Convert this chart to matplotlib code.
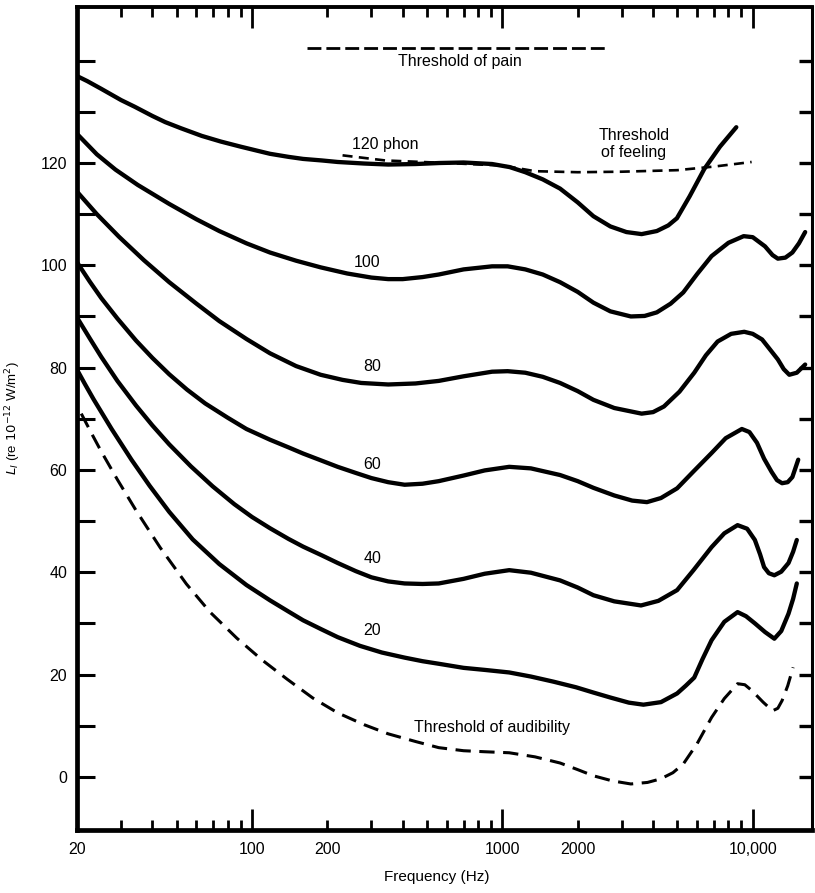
import numpy as np
import matplotlib
matplotlib.use("Agg")
import matplotlib.pyplot as plt

plt.rcParams['font.family'] = ['Liberation Sans', 'DejaVu Sans']
plt.rcParams['mathtext.fontset'] = 'dejavusans'

# ---------------- data (frequency in Hz, level in dB) ----------------
phon120_f = [20, 22, 25, 30, 34, 40, 45, 52, 63, 75, 90, 105, 118, 140, 160, 190, 220, 280, 350,
             450, 560, 700, 910, 1070, 1235, 1450, 1700, 2000, 2310, 2700, 3130, 3600, 4140, 4600,
             4980, 5600, 6400, 7400, 8600]
phon120_db = [137, 136, 134.5, 132.3, 131, 129.2, 128, 126.8, 125.3, 124.2, 123.2, 122.4, 121.8,
              121.2, 120.8, 120.5, 120.2, 119.9, 119.7, 119.8, 120, 120.1, 119.8, 119.2, 118.2,
              116.8, 115, 112.3, 109.6, 107.6, 106.5, 106.1, 106.7, 107.8, 109.2, 113.5, 118.8,
              123.2, 127]

phon100_f = [20, 24, 28.5, 35, 46.7, 60, 74, 95, 118, 150, 188, 240, 300, 350, 400, 480, 557, 700,
             910, 1050, 1235, 1450, 1700, 2000, 2310, 2700, 3260, 3700, 4140, 4700, 5280, 6000,
             6850, 8000, 9200, 10000, 11200, 12000, 12600, 13500, 14400, 15300, 16200]
phon100_db = [125.7, 121.7, 118.7, 115.7, 112.0, 109.0, 106.7, 104.3, 102.5, 100.9, 99.6, 98.4, 97.6,
              97.3, 97.3, 97.7, 98.2, 99.2, 99.8, 99.8, 99.2, 98.2, 96.7, 94.8, 92.7, 91, 90, 90.1,
              90.8, 92.5, 94.7, 98.3, 101.8, 104.4, 105.7, 105.5, 103.7, 102, 101.3, 101.5, 102.5,
              104.3, 106.5]

phon80_f = [20, 24, 29.4, 37, 46.7, 60, 74, 95, 118, 150, 188, 230, 273, 350, 450, 557, 700, 910,
            1050, 1235, 1450, 1700, 2000, 2310, 2800, 3600, 4000, 4420, 5100, 5840, 6500, 7240,
            8200, 9250, 10000, 10900, 11700, 12600, 13300, 14000, 15000, 16200]
phon80_db = [114.4, 110.0, 105.6, 101.0, 96.7, 92.5, 89.1, 85.6, 82.8, 80.3, 78.6, 77.6, 77, 76.7,
             76.9, 77.4, 78.3, 79.2, 79.3, 79, 78.2, 77, 75.4, 73.7, 72.1, 71, 71.3, 72.4, 75.3,
             79, 82.4, 85.1, 86.6, 87, 86.6, 85.5, 83.6, 81.6, 79.7, 78.6, 79, 80.6]

phon60_f = [20, 22.5, 25, 29, 34.4, 40, 46.7, 55, 65, 80, 95, 118, 140, 160, 190, 220, 260, 300,
            350, 407, 480, 557, 700, 850, 1065, 1300, 1700, 2000, 2310, 2800, 3300, 3780, 4300,
            4990, 5800, 6850, 7800, 9050, 9700, 10400, 11100, 11900, 12500, 13100, 13800, 14400,
            15200]
phon60_db = [100.6, 96.8, 93.6, 89.6, 85.3, 81.9, 78.7, 75.7, 73, 70.2, 68.0, 65.9, 64.4, 63.2,
             61.8, 60.6, 59.4, 58.4, 57.6, 57.1, 57.3, 57.8, 58.9, 59.9, 60.6, 60.3, 59, 57.8,
             56.5, 55, 54, 53.7, 54.5, 56.4, 59.7, 63.3, 66.2, 68, 67.4, 65.3, 62.2, 59.6, 58,
             57.4, 57.6, 58.6, 62]

phon40_f = [20, 22.5, 25, 29, 34.4, 40, 46.7, 57, 69.6, 85, 100, 118, 140, 160, 190, 220, 260, 300,
            350, 407, 480, 557, 700, 850, 1065, 1300, 1700, 2000, 2310, 2800, 3580, 4200, 4990,
            5800, 6850, 7700, 8700, 9500, 10200, 10700, 11100, 11600, 12200, 13000, 13900, 14500,
            15000]
phon40_db = [89.8, 85.7, 82.1, 77.4, 72.6, 68.7, 65.0, 60.7, 56.8, 53.3, 50.8, 48.6, 46.5, 45,
             43.3, 41.8, 40.2, 39, 38.2, 37.8, 37.7, 37.8, 38.7, 39.7, 40.4, 39.9, 38.4, 37, 35.5,
             34.3, 33.5, 34.4, 36.5, 40.4, 44.9, 47.6, 49.2, 48.5, 46.3, 43.5, 41, 39.8, 39.4,
             40.1, 41.8, 44, 46.3]

phon20_f = [20, 21.5, 23.3, 27.5, 33, 39, 46.7, 58, 74, 95, 118, 140, 160, 190, 220, 270, 330, 407,
            480, 557, 700, 850, 1065, 1300, 1600, 1970, 2300, 2700, 3200, 3660, 4300, 4990, 5400,
            5840, 6300, 6850, 7700, 8700, 9400, 10200, 11200, 12200, 13000, 13900, 14500, 15000]
phon20_db = [79.6, 76.8, 73.8, 68.0, 62.0, 56.9, 51.8, 46.4, 41.6, 37.5, 34.5, 32.3, 30.6, 28.8,
             27.3, 25.6, 24.3, 23.3, 22.6, 22.1, 21.3, 20.9, 20.4, 19.6, 18.6, 17.5, 16.5, 15.5,
             14.5, 14.1, 14.6, 16.3, 17.8, 19.4, 23, 26.7, 30.3, 32.2, 31.4, 30, 28.3, 27, 28.5,
             31.9, 34.8, 37.8]

audib_f = [20.8, 23, 25, 29, 34.4, 43, 54.7, 68, 87, 110, 138, 175, 220, 280, 350, 450, 557, 700,
           850, 1065, 1350, 1700, 2000, 2310, 2750, 3260, 3800, 4290, 4800, 5280, 6000, 6850,
           7700, 8700, 9300, 9900, 11000, 12000, 12600, 13100, 13800, 14500]
audib_db = [71, 66.9, 63.6, 58.1, 52.1, 44.8, 37.7, 32.2, 27.1, 22.8, 19.1, 15.4, 12.5, 10.2, 8.4,
            6.9, 5.7, 5.1, 4.9, 4.7, 3.9, 2.7, 1.4, 0.2, -0.8, -1.4, -1.1, -0.4, 0.8, 2.5, 6.5,
            11.6, 15.3, 18.2, 18, 16.9, 14.6, 12.9, 13.4, 14.9, 17.8, 21.4]

pain_f = [166, 2570]
pain_db = [142.5, 142.5]

feel_f = [230, 340, 600, 1000, 1350, 2000, 3000, 5000, 7000, 9900]
feel_db = [121.5, 120.5, 120, 119.5, 118.4, 118.2, 118.3, 118.6, 119.3, 120.2]

xmajor = [100, 1000, 10000]
xmajor_labels = ["100", "1000", "10,000"]
xminor = [20, 30, 40, 50, 60, 70, 80, 90, 200, 300, 400, 500, 600, 700, 800, 900,
          2000, 3000, 4000, 5000, 6000, 7000, 8000, 9000]
xminor_labels = ["20", "", "", "", "", "", "", "", "200", "", "", "", "", "", "", "",
                 "2000", "", "", "", "", "", "", ""]
ymajor = [0, 20, 40, 60, 80, 100, 120]
yminor = [10, 30, 50, 70, 90, 110, 130, 140]

# ---------------- figure ----------------
fig = plt.figure(figsize=(8.15, 8.93), dpi=100)
ax = fig.add_axes([77/815, 1 - 830/893, 735/815, 823/893])

solid = dict(color='black', lw=3.1, solid_capstyle='round', solid_joinstyle='round')
for f, db in [(phon120_f, phon120_db), (phon100_f, phon100_db), (phon80_f, phon80_db),
              (phon60_f, phon60_db), (phon40_f, phon40_db), (phon20_f, phon20_db)]:
    ax.plot(f, db, **solid)

ax.plot(audib_f, audib_db, color='black', lw=2.2, dashes=(5, 2.8))
ax.plot(pain_f, pain_db, color='black', lw=2.0, dashes=(5, 1.8))
ax.plot(feel_f, feel_db, color='black', lw=1.9, dashes=(3.8, 2.4), zorder=1)

ax.set_xscale('log')
ax.set_xlim(20, 17250)
ax.set_ylim(-10.4, 150.5)

ax.set_xticks(xmajor, xmajor_labels)
ax.set_xticks(xminor, xminor_labels, minor=True)
ax.set_yticks(ymajor, [str(v) for v in ymajor])
ax.set_yticks(yminor, minor=True)

ax.tick_params(axis='x', which='major', direction='in', length=15, width=2,
               top=True, bottom=True, pad=9, labelsize=11.5)
ax.tick_params(axis='x', which='minor', direction='in', length=7.5, width=2,
               top=True, bottom=True, pad=9, labelsize=11.5)
ax.tick_params(axis='y', which='both', direction='in', length=13, width=2.2,
               left=True, right=False, pad=7, labelsize=11.5)

sec = ax.secondary_yaxis('right')
sec.set_yticks(ymajor + yminor)
sec.tick_params(direction='in', length=9.5, width=2.4, labelright=False)
sec.spines['right'].set_linewidth(2.2)
ax.spines['right'].set_visible(False)

ax.spines['left'].set_linewidth(3.4)
ax.spines['bottom'].set_linewidth(3.4)
ax.spines['top'].set_linewidth(2.8)

ax.set_xlabel('Frequency (Hz)', fontsize=11)
ax.xaxis.set_label_coords(0.49, -0.048)
ax.set_ylabel(r'$L_I$ (re $10^{-12}$ W/m$^2$)', fontsize=9.5)
ax.yaxis.set_label_coords(-0.074, 0.5)

txt = dict(fontsize=11.5, color='black')
ax.text(677, 139.8, 'Threshold of pain', ha='center', va='center', **txt)
ax.text(251, 123.7, '120 phon', ha='left', va='center', **txt)
ax.text(3353, 123.7, 'Threshold\nof feeling', ha='center', va='center', linespacing=1.1, **txt)
ax.text(288, 100.6, '100', ha='center', va='center', **txt)
ax.text(301, 80.3, '80', ha='center', va='center', **txt)
ax.text(303, 61, '60', ha='center', va='center', **txt)
ax.text(303, 42.7, '40', ha='center', va='center', **txt)
ax.text(303, 28.6, '20', ha='center', va='center', **txt)
ax.text(908, 9.6, 'Threshold of audibility', ha='center', va='center', **txt)

fig.savefig('out.png', dpi=100)
